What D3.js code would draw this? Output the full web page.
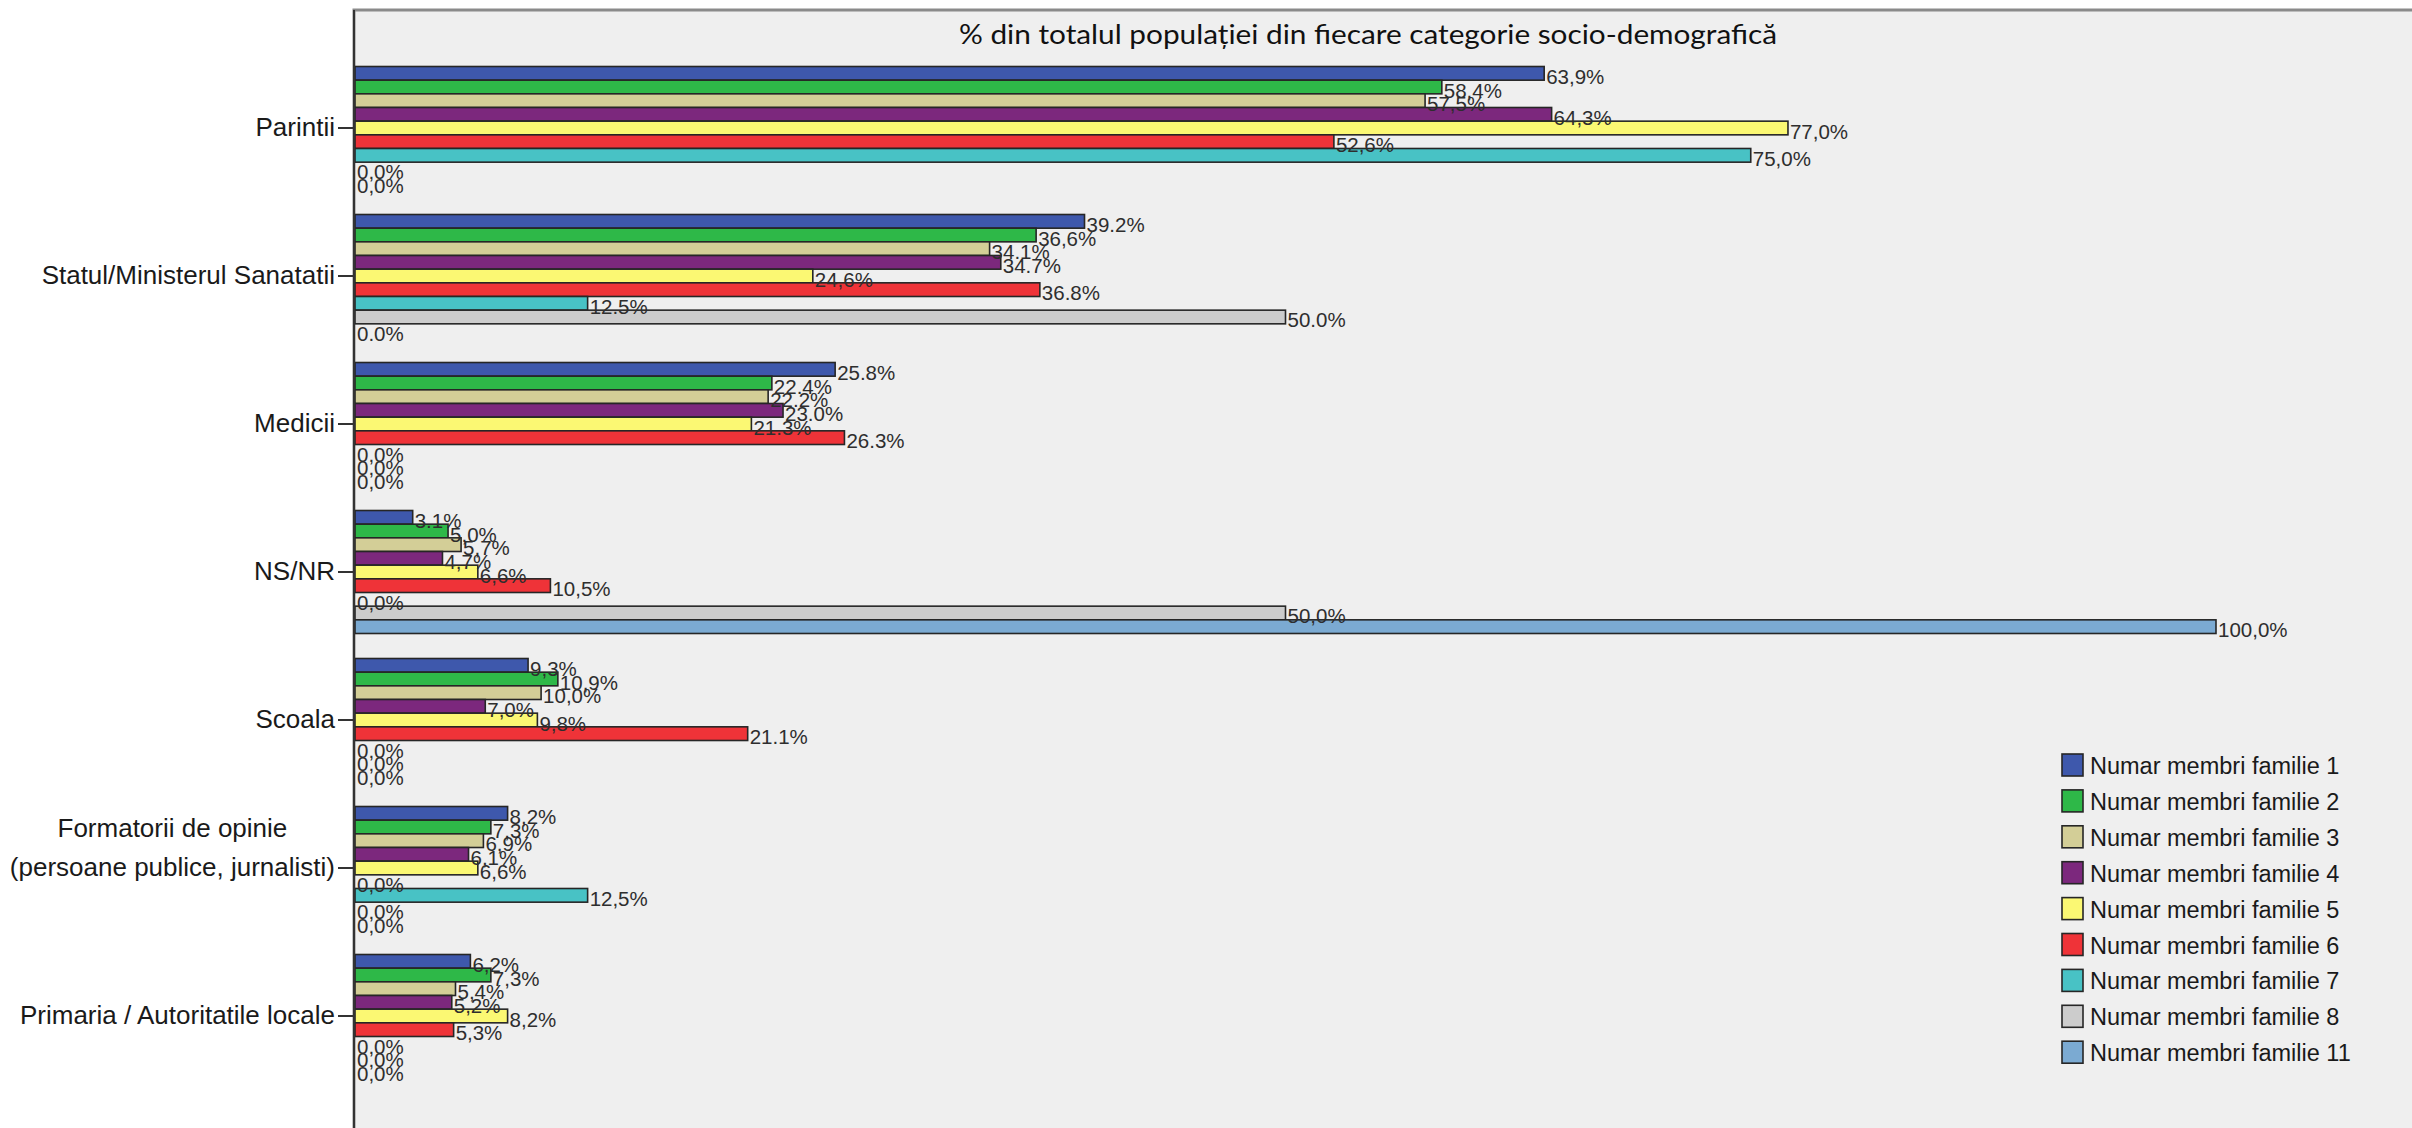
<!DOCTYPE html>
<html>
<head>
<meta charset="utf-8">
<script src="https://cdn.jsdelivr.net/npm/d3@7"></script>
<style>
  html, body { margin: 0; padding: 0; background: #ffffff; }
  svg { display: block; }
</style>
</head>
<body>
<svg id="chart" width="2412" height="1128"></svg>
<script>
// ---------- DATA ----------
const categories = [
  "Parintii",
  "Statul/Ministerul Sanatatii",
  "Medicii",
  "NS/NR",
  "Scoala",
  "Formatorii de opinie\n(persoane publice, jurnalisti)",
  "Primaria / Autoritatile locale"
];
const seriesNames = [
  "Numar membri familie 1",
  "Numar membri familie 2",
  "Numar membri familie 3",
  "Numar membri familie 4",
  "Numar membri familie 5",
  "Numar membri familie 6",
  "Numar membri familie 7",
  "Numar membri familie 8",
  "Numar membri familie 11"
];
const seriesColors = ["#3e58ac", "#2eb848", "#d3ce97", "#7c287d", "#fbf873", "#ef3338", "#48c2c5", "#cccccc", "#7baad2"];
// values per category, in series order (1,2,3,4,5,6,7,8,11)
const valuesParintii   = [63.9, 58.4, 57.5, 64.3, 77.0, 52.6, 75.0, 0.0, 0.0];
const valuesStatul     = [39.2, 36.6, 34.1, 34.7, 24.6, 36.8, 12.5, 50.0, 0.0];
const valuesMedicii    = [25.8, 22.4, 22.2, 23.0, 21.3, 26.3, 0.0, 0.0, 0.0];
const valuesNSNR       = [3.1, 5.0, 5.7, 4.7, 6.6, 10.5, 0.0, 50.0, 100.0];
const valuesScoala     = [9.3, 10.9, 10.0, 7.0, 9.8, 21.1, 0.0, 0.0, 0.0];
const valuesFormatorii = [8.2, 7.3, 6.9, 6.1, 6.6, 0.0, 12.5, 0.0, 0.0];
const valuesPrimaria   = [6.2, 7.3, 5.4, 5.2, 8.2, 5.3, 0.0, 0.0, 0.0];
// decimal mark shown in each value label (as printed in the original)
const decimalMarks = [",,,,,,,,,", ".,..,....", "......,,,", ".,,,,,,,,", ",,,,,.,,,", ",,,,,,,,,", ",,,,,,,,,"];
const titleText = "% din totalul populației din fiecare categorie socio-demografică";

const allValues = [valuesParintii, valuesStatul, valuesMedicii, valuesNSNR, valuesScoala, valuesFormatorii, valuesPrimaria];
const rows = [];
categories.forEach((c, ci) => {
  allValues[ci].forEach((v, si) => {
    rows.push({ cat: c, ser: seriesNames[si], si, v, label: v.toFixed(1).replace(".", decimalMarks[ci][si]) + "%" });
  });
});

// ---------- LAYOUT ----------
const svg = d3.select("#chart");
const plotLeft = 354, plotTop = 10;

svg.append("rect")
  .attr("x", plotLeft).attr("y", plotTop)
  .attr("width", 2500).attr("height", 1300)
  .attr("fill", "#efefef")
  .attr("stroke", "#8a8a8a").attr("stroke-width", 3);

const x = d3.scaleLinear().domain([0, 100]).range([plotLeft + 1, 2216]);
const y0 = d3.scaleBand().domain(categories).range([54, 1090]).paddingInner(0.169).paddingOuter(0.0845);
const y1 = d3.scaleBand().domain(seriesNames).range([0, y0.bandwidth()]).paddingInner(0.0);
const color = d3.scaleOrdinal().domain(seriesNames).range(seriesColors);

// title
svg.append("text")
  .attr("x", 1368).attr("y", 44)
  .attr("text-anchor", "middle")
  .attr("font-family", "Lato, 'Open Sans', sans-serif")
  .attr("font-size", 26)
  .attr("textLength", 818).attr("lengthAdjust", "spacingAndGlyphs")
  .attr("fill", "#111")
  .text(titleText);

// bars
const g = svg.append("g");
g.selectAll("rect.bar")
  .data(rows.filter(d => d.v > 0))
  .join("rect")
  .attr("class", "bar")
  .attr("x", x(0))
  .attr("y", d => y0(d.cat) + y1(d.ser))
  .attr("width", d => x(d.v) - x(0))
  .attr("height", y1.bandwidth())
  .attr("fill", d => color(d.ser))
  .attr("stroke", "#262626")
  .attr("stroke-width", 1.6);

// value labels
g.selectAll("text.val")
  .data(rows)
  .join("text")
  .attr("class", "val")
  .attr("x", d => x(d.v) + 2)
  .attr("y", d => y0(d.cat) + y1(d.ser) + y1.bandwidth() / 2 + 3)
  .attr("dominant-baseline", "central")
  .attr("font-family", "'Liberation Sans', Arial, sans-serif")
  .attr("font-size", 20.5)
  .attr("fill", "#2e2e2e")
  .text(d => d.label);

// category axis
const axis = d3.axisLeft(y0).tickSize(16).tickPadding(3).tickSizeOuter(0);
const axG = svg.append("g").attr("transform", `translate(${plotLeft},0)`).call(axis);
axG.select(".domain").remove();
axG.selectAll(".tick line").attr("stroke", "#333").attr("stroke-width", 2);
axG.selectAll(".tick text")
  .attr("font-family", "'Liberation Sans', Arial, sans-serif")
  .attr("font-size", 26)
  .attr("fill", "#1a1a1a")
  .each(function(d) {
    const lines = d.split("\n");
    if (lines.length > 1) {
      const t = d3.select(this);
      t.text(null).attr("dy", null).attr("text-anchor", "middle");
      lines.forEach((ln, i) => {
        t.append("tspan").attr("x", 0).attr("y", (i - lines.length + 1) * 39).attr("dy", "0.32em").text(ln);
      });
      const w = this.getBBox().width;
      t.attr("transform", `translate(${-19 - w / 2},0)`).selectAll("tspan").attr("x", 0);
    }
  });

// left axis line
svg.append("line")
  .attr("x1", plotLeft).attr("x2", plotLeft)
  .attr("y1", plotTop).attr("y2", 1128)
  .attr("stroke", "#333").attr("stroke-width", 2);

// legend
const legend = svg.append("g").attr("transform", "translate(2062,765)");
const lg = legend.selectAll("g.item").data(seriesNames).join("g")
  .attr("class", "item")
  .attr("transform", (d, i) => `translate(0,${i * 35.9})`);
lg.append("rect")
  .attr("x", 0).attr("y", -11).attr("width", 21).attr("height", 22)
  .attr("fill", d => color(d))
  .attr("stroke", "#262626").attr("stroke-width", 1.6);
lg.append("text")
  .attr("x", 28).attr("y", 1)
  .attr("dominant-baseline", "central")
  .attr("font-family", "'Liberation Sans', Arial, sans-serif")
  .attr("font-size", 23.5)
  .attr("fill", "#1a1a1a")
  .text(d => d);
</script>
</body>
</html>
